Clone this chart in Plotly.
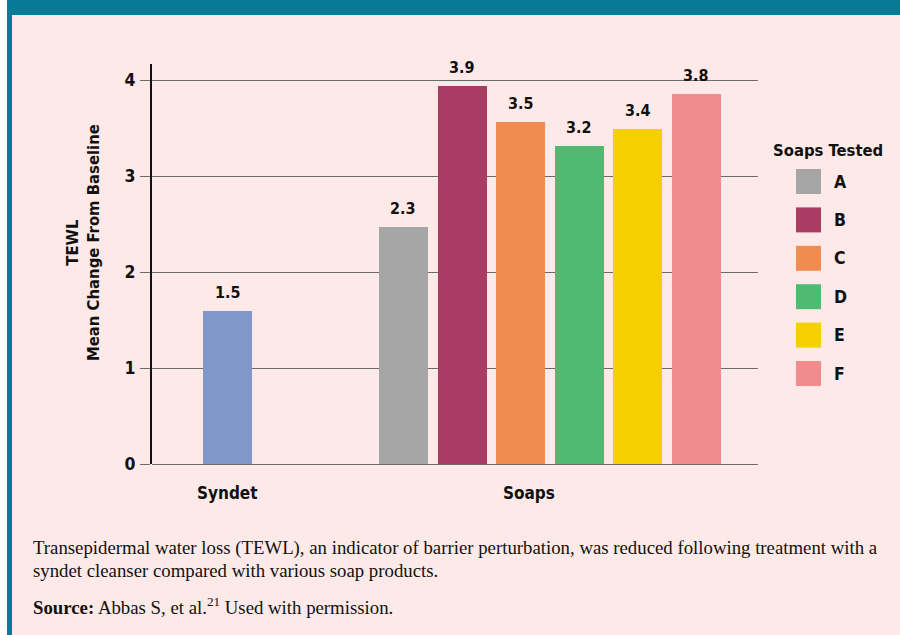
import plotly.graph_objects as go

# ---- data ----
syndet_label = "Syndet"
syndet_value = 1.6
syndet_text = "1.5"
soap_names = ["A", "B", "C", "D", "E", "F"]
soap_values = [2.47, 3.94, 3.57, 3.32, 3.49, 3.86]
soap_texts = ["2.3", "3.9", "3.5", "3.2", "3.4", "3.8"]
group_labels = ["Syndet", "Soaps"]
y_ticks = [0, 1, 2, 3, 4]

# ---- styles ----
syndet_color = "#7F97C9"
soap_colors = ["#A6A6A6", "#AA3C64", "#F08C50", "#50BA72", "#F5D000", "#F08C8C"]
pink = "#FDEAE8"
teal = "#067A97"
grid = "#6B6B6B"
COND = "DejaVu Sans Condensed"
SERIF = "Liberation Serif"
INK = "#111111"

W, H = 900, 635
L, R, T, B = 152, 142, 64, 171
PW, PH = W - L - R, H - T - B


def px(xp):
    return (xp - L) / PW


def py(yp):
    return (H - B - yp) / PH


def bold(size):
    return dict(family=COND, size=size, color=INK, weight="bold")


# x positions: syndet at 0, soaps after a gap
xs = [0] + [3 + i for i in range(len(soap_names))]
vals = [syndet_value] + soap_values
texts = [syndet_text] + soap_texts
colors = [syndet_color] + soap_colors

fig = go.Figure()
fig.add_trace(go.Bar(x=xs, y=vals, width=0.836, marker=dict(color=colors, line=dict(width=0)),
                     showlegend=False, hoverinfo="skip"))

annotations = []
for x, v, t in zip(xs, vals, texts):
    annotations.append(dict(x=x, y=v, xref="x", yref="y", text=t, showarrow=False,
                            xanchor="center", yanchor="bottom", yshift=7, font=bold(16)))

# group labels
group_x = [0, 5.15]
for gx, gl in zip(group_x, group_labels):
    annotations.append(dict(x=gx, y=0, xref="x", yref="paper", text=gl, showarrow=False,
                            xanchor="center", yanchor="middle", yshift=-29, font=bold(17)))

# y-axis title
annotations.append(dict(x=px(83), y=py(243), xref="paper", yref="paper",
                        text="TEWL<br>Mean Change From Baseline", showarrow=False,
                        xanchor="center", yanchor="middle",
                        textangle=-90, font=bold(16.5), align="center"))

# legend (manual, large swatches)
shapes = []
annotations.append(dict(x=px(828), y=py(150), xref="paper", yref="paper", text="Soaps Tested",
                        showarrow=False, xanchor="center", yanchor="middle", font=bold(16.5)))
for i, (n, c) in enumerate(zip(soap_names, soap_colors)):
    top = 169 + 38.4 * i
    shapes.append(dict(type="rect", xref="paper", yref="paper", x0=px(796), x1=px(821),
                       y0=py(top + 25), y1=py(top), fillcolor=c, line=dict(width=0)))
    annotations.append(dict(x=px(832), y=py(top + 12.5), xref="paper", yref="paper", text=n,
                            showarrow=False, xanchor="left", yanchor="middle", font=bold(17.5)))

# caption
cap_lines = [
    "Transepidermal water loss (TEWL), an indicator of barrier perturbation, was reduced following treatment with a",
    "syndet cleanser compared with various soap products.",
    "<b>Source:</b> Abbas S, et al.<sup>21</sup> Used with permission.",
]
cap_y = [548, 570, 606]
for line, cy in zip(cap_lines, cap_y):
    annotations.append(dict(x=px(31), y=py(cy), xref="paper", yref="paper", text=line, showarrow=False,
                            xanchor="left", yanchor="middle", font=dict(family=SERIF, size=18.8, color=INK)))

# frame: white edge, teal strip and top band
shapes += [
    dict(type="rect", xref="paper", yref="paper", x0=px(0), x1=px(7), y0=py(H), y1=py(0),
         fillcolor="white", line=dict(width=0), layer="below"),
    dict(type="rect", xref="paper", yref="paper", x0=px(7), x1=px(12), y0=py(H), y1=py(0),
         fillcolor=teal, line=dict(width=0), layer="below"),
    dict(type="rect", xref="paper", yref="paper", x0=px(7), x1=px(W), y0=py(15), y1=py(0),
         fillcolor=teal, line=dict(width=0), layer="below"),
]

fig.update_layout(
    width=W, height=H,
    margin=dict(l=L, r=R, t=T, b=B, pad=0),
    paper_bgcolor=pink, plot_bgcolor=pink,
    bargap=0,
    xaxis=dict(range=[-1.29, 9.05], showgrid=False, zeroline=False, showticklabels=False,
               ticks="", showline=False, fixedrange=True),
    yaxis=dict(range=[0, 4.17], tickvals=y_ticks, showgrid=True, gridcolor=grid, gridwidth=1.3,
               zeroline=True, zerolinecolor=grid, zerolinewidth=1.3,
               showline=True, linecolor=INK, linewidth=2,
               ticks="outside", ticklen=10, tickcolor=grid, tickwidth=1.3,
               ticklabelstandoff=1,
               tickfont=bold(17.5)),
    shapes=shapes,
    annotations=annotations,
)

fig.write_html("out.html")
